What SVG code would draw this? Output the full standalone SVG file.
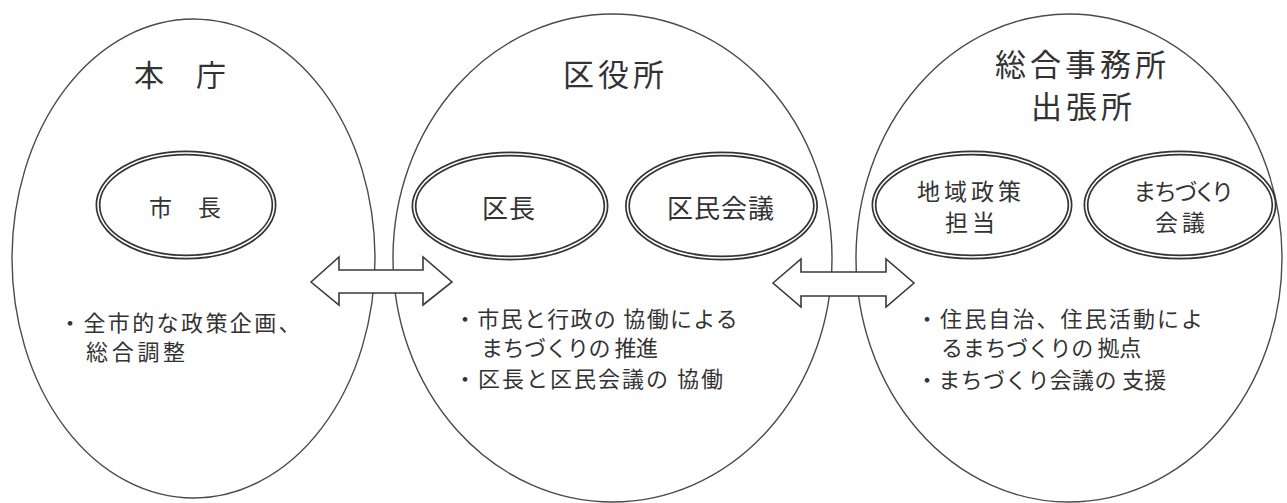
<svg xmlns="http://www.w3.org/2000/svg" width="1287" height="503" viewBox="0 0 1287 503">
<style>
  .big { fill: #ffffff; stroke: #4a4a4a; stroke-width: 1.4; }
  .dbl-o { fill: #ffffff; stroke: #333333; stroke-width: 5; }
  .dbl-i { fill: none; stroke: #ffffff; stroke-width: 1.6; }
  .arrow { fill: #ffffff; stroke: #3a3a3a; stroke-width: 1.6; stroke-linejoin: miter; }
  text { font-family: "Noto Sans CJK JP", "Noto Sans CJK SC", sans-serif; fill: #333333; }
  .title { font-size: 30px; }
  .label { font-size: 25px; }
  .body { font-size: 22px; }
</style>
<rect x="0" y="0" width="1287" height="503" fill="#ffffff"/>

<g id="honcho">
  <ellipse class="big" cx="193.5" cy="258.5" rx="181.5" ry="239.5"/>
  <text class="title" x="134" y="86" style="font-size:30px;letter-spacing:1px">本　庁</text>
  <text class="body" x="59" y="331" style="letter-spacing:2.4px">・全市的な政策企画、</text>
  <text class="body" x="86" y="360" style="letter-spacing:3.7px">総合調整</text>
</g>

<g id="kuyakusho">
  <ellipse class="big" cx="612.5" cy="258" rx="219.5" ry="244"/>
  <text class="title" x="563" y="86" style="font-size:31px;letter-spacing:4px">区役所</text>
  <text class="body" x="454" y="327" style="letter-spacing:1.3px">・市民と行政の 協働による</text>
  <text class="body" x="481" y="356" style="letter-spacing:-0.5px">まちづくりの 推進</text>
  <text class="body" x="454" y="387" style="letter-spacing:2px">・区長と区民会議の 協働</text>
</g>

<g id="sogojimusho">
  <ellipse class="big" cx="1069" cy="258" rx="213" ry="244"/>
  <text class="title" x="995" y="76" style="font-size:31px;letter-spacing:4px">総合事務所</text>
  <text class="title" x="1031" y="118" style="font-size:31px;letter-spacing:4px">出張所</text>
  <text class="body" x="916" y="327" style="letter-spacing:2.1px">・住民自治、住民活動によ</text>
  <text class="body" x="941" y="356" style="letter-spacing:-0.3px">るまちづくりの 拠点</text>
  <text class="body" x="916" y="388" style="letter-spacing:0.3px">・まちづくり会議の 支援</text>
</g>

<g id="shicho">
  <ellipse class="dbl-o" cx="186" cy="205" rx="88" ry="52"/>
  <ellipse class="dbl-i" cx="186" cy="205" rx="88" ry="52"/>
  <text class="label" x="149" y="216" style="font-size:23px;letter-spacing:1.5px">市　長</text>
</g>

<g id="kucho">
  <ellipse class="dbl-o" cx="510" cy="206" rx="96" ry="52"/>
  <ellipse class="dbl-i" cx="510" cy="206" rx="96" ry="52"/>
  <text class="label" x="482" y="218" style="font-size:26px;letter-spacing:1px">区長</text>
</g>

<g id="kumin-kaigi">
  <ellipse class="dbl-o" cx="721.5" cy="206" rx="94" ry="52"/>
  <ellipse class="dbl-i" cx="721.5" cy="206" rx="94" ry="52"/>
  <text class="label" x="667" y="218" style="font-size:26px;letter-spacing:1px">区民会議</text>
</g>

<g id="chiiki-seisaku">
  <ellipse class="dbl-o" cx="972" cy="205" rx="98" ry="52"/>
  <ellipse class="dbl-i" cx="972" cy="205" rx="98" ry="52"/>
  <text class="label" x="917" y="200" style="font-size:23px;letter-spacing:4px">地域政策</text>
  <text class="label" x="945" y="231" style="font-size:23px;letter-spacing:4px">担当</text>
</g>

<g id="machizukuri-kaigi">
  <ellipse class="dbl-o" cx="1180" cy="205" rx="94" ry="52"/>
  <ellipse class="dbl-i" cx="1180" cy="205" rx="94" ry="52"/>
  <text class="label" x="1134" y="200" style="font-size:23px;font-feature-settings:'palt';letter-spacing:-0.3px">まちづくり</text>
  <text class="label" x="1155" y="231" style="font-size:23px;letter-spacing:4px">会議</text>
</g>

<g id="connectors">
  <polygon class="arrow" points="311,282 339,257 339,270 423,270 423,257 452,282 423,305 423,293 339,293 339,305"/>
  <polygon class="arrow" points="773,283 801,259 801,272 886,272 886,259 914,283 886,307 886,296 801,296 801,307"/>
</g>
</svg>
